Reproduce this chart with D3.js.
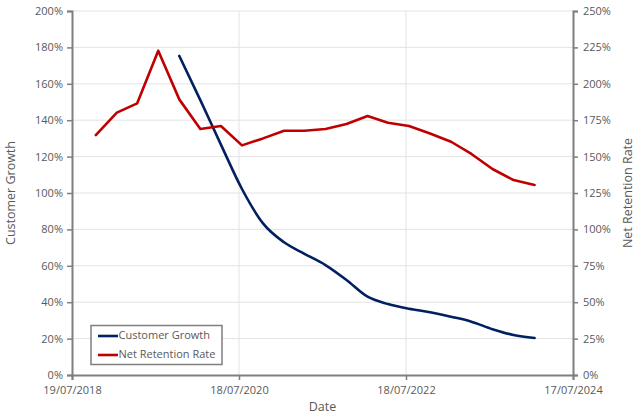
<!DOCTYPE html>
<html><head><meta charset="utf-8">
<script src="https://cdn.jsdelivr.net/npm/d3@7"></script>
<style>
html,body{margin:0;padding:0;background:#fff;}
svg{display:block;font-family:"Open Sans",sans-serif;}
</style></head>
<body><svg id="c" width="640" height="418"></svg>
<script>
// ---- data ----
const retentionDates = ["2018-10-31","2019-01-31","2019-04-30","2019-07-31","2019-10-31","2020-01-31","2020-04-30","2020-07-31","2020-10-31","2021-01-31","2021-04-30","2021-07-31","2021-10-31","2022-01-31","2022-04-30","2022-07-31","2022-10-31","2023-01-31","2023-04-30","2023-07-31","2023-10-31","2024-01-31"];
const retentionValues = [164.8,180.2,186.6,222.7,189.3,169.0,171.0,157.7,162.5,167.8,167.8,169.0,172.4,177.9,173.3,171.0,165.9,160.2,151.8,141.5,133.9,130.5];
const growthDates = ["2019-10-31","2020-01-31","2020-04-30","2020-07-31","2020-10-31","2021-01-31","2021-04-30","2021-07-31","2021-10-31","2022-01-31","2022-04-30","2022-07-31","2022-10-31","2023-01-31","2023-04-30","2023-07-31","2023-10-31","2024-01-31"];
const growthValues = [175.3,151.0,126.6,102.2,83.3,72.9,66.6,60.4,52.2,43.0,39.0,36.4,34.5,32.0,29.3,25.2,22.0,20.3];
const xTickLabels = ["19/07/2018","18/07/2020","18/07/2022","17/07/2024"];
const leftTicks = [0,20,40,60,80,100,120,140,160,180,200];
const rightTicks = [0,25,50,75,100,125,150,175,200,225,250];
const seriesNames = ["Customer Growth","Net Retention Rate"];
const seriesColors = ["#002060","#C00000"];

// ---- layout ----
const svg = d3.select("#c");
const L = 72, R = 573, T = 11, B = 375;
const parse = d3.timeParse("%Y-%m-%d");
const parseTick = d3.timeParse("%d/%m/%Y");
const tickDates = xTickLabels.map(parseTick);
const x = d3.scaleTime().domain([tickDates[0], tickDates[tickDates.length-1]]).range([L, R]);
const yL = d3.scaleLinear().domain([0,200]).range([B, T]);
const yR = d3.scaleLinear().domain([0,250]).range([B, T]);
const txt = "#595959", axc = "#7f7f7f", grid = "#e3e3e3";

// gridlines
svg.append("g").selectAll("line").data(leftTicks.slice(1)).join("line")
  .attr("x1", L).attr("x2", R).attr("y1", d=>yL(d)).attr("y2", d=>yL(d))
  .attr("stroke", grid).attr("stroke-width", 1);
svg.append("g").selectAll("line").data(tickDates.slice(1,-1)).join("line")
  .attr("x1", d=>x(d)).attr("x2", d=>x(d)).attr("y1", T).attr("y2", B)
  .attr("stroke", grid).attr("stroke-width", 1);

function styleAxis(g){
  g.select(".domain").attr("stroke", axc).attr("stroke-width", 2);
  g.selectAll(".tick line").attr("stroke", axc).attr("stroke-width", 1.5);
  g.selectAll(".tick text").attr("fill", txt).style("font-size","11px").style("font-family","'Open Sans',sans-serif");
}
// axes
const gl = svg.append("g").attr("transform",`translate(${L},0)`)
  .call(d3.axisLeft(yL).tickValues(leftTicks).tickFormat(d=>d+"%").tickSizeOuter(0).tickSize(5).tickPadding(4));
styleAxis(gl);
const gr = svg.append("g").attr("transform",`translate(${R},0)`)
  .call(d3.axisRight(yR).tickValues(rightTicks).tickFormat(d=>d+"%").tickSizeOuter(0).tickSize(5).tickPadding(5));
styleAxis(gr);
const gb = svg.append("g").attr("transform",`translate(0,${B})`)
  .call(d3.axisBottom(x).tickValues(tickDates).tickFormat((d,i)=>xTickLabels[i]).tickSizeOuter(0).tickSize(5).tickPadding(6));
styleAxis(gb);

// lines
const growth = growthDates.map((d,i)=>({d:parse(d), v:growthValues[i]}));
const retention = retentionDates.map((d,i)=>({d:parse(d), v:retentionValues[i]}));
svg.append("path").datum(growth)
  .attr("d", d3.line().x(p=>x(p.d)).y(p=>yL(p.v)).curve(d3.curveMonotoneX))
  .attr("fill","none").attr("stroke",seriesColors[0]).attr("stroke-width",2.6).attr("stroke-linejoin","round").attr("stroke-linecap","round");
svg.append("path").datum(retention)
  .attr("d", d3.line().x(p=>x(p.d)).y(p=>yR(p.v)))
  .attr("fill","none").attr("stroke",seriesColors[1]).attr("stroke-width",2.6).attr("stroke-linejoin","round").attr("stroke-linecap","round");

// axis titles
svg.append("text").attr("transform",`translate(12,${(T+B)/2}) rotate(-90)`)
  .attr("text-anchor","middle").attr("dominant-baseline","middle")
  .attr("fill",txt).style("font-size","12.5px").text("Customer Growth");
svg.append("text").attr("transform",`translate(629,${(T+B)/2}) rotate(-90)`)
  .attr("text-anchor","middle").attr("dominant-baseline","middle")
  .attr("fill",txt).style("font-size","12.5px").text("Net Retention Rate");
svg.append("text").attr("x",(L+R)/2).attr("y",408).attr("text-anchor","middle").attr("dominant-baseline","middle")
  .attr("fill",txt).style("font-size","12.5px").text("Date");

// legend
const lg = svg.append("g");
lg.append("rect").attr("x",91).attr("y",325.5).attr("width",131).attr("height",39)
  .attr("fill","#fff").attr("stroke",axc).attr("stroke-width",1.5);
seriesNames.forEach((n,i)=>{
  const yy = 336 + i*19;
  lg.append("line").attr("x1",98).attr("x2",118).attr("y1",yy).attr("y2",yy)
    .attr("stroke",seriesColors[i]).attr("stroke-width",2.6);
  lg.append("text").attr("x",118.5).attr("y",yy).attr("dominant-baseline","middle")
    .attr("fill",txt).style("font-size","11px").text(n);
});
</script></body></html>
